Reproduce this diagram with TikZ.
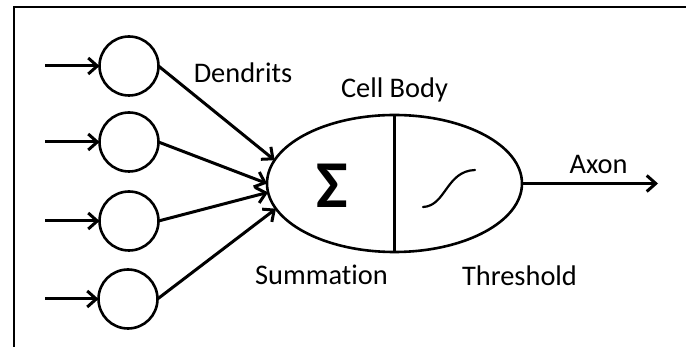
\documentclass[tikz,border=0pt]{standalone}
\usepackage{fontspec}
\setmainfont[Ligatures=NoCommon]{Carlito}
\usetikzlibrary{arrows.meta,shapes.geometric}

\tikzset{
  inputcell/.style={draw, circle, minimum size=59pt, inner sep=0pt, outer sep=0pt, line width=2.6pt},
  soma/.style={draw, ellipse, minimum width=255pt, minimum height=137pt, inner sep=0pt, outer sep=0pt, line width=2.6pt},
  wire/.style={line width=3pt, -{Straight Barb[length=9pt,width=16pt]}},
  label/.style={font=\fontsize{28.4}{34}\selectfont, anchor=base, inner sep=0pt},
  frameline/.style={line width=2pt}
}

\begin{document}
\begin{tikzpicture}[x=1pt, y=-1pt]
  \useasboundingbox (0,0) rectangle (686,347);

  % partial frame: top and left edges
  \draw[frameline] (686,7) -- (14,7) -- (14,348);

  % input cells
  \node[inputcell] (c1) at (129,66) {};
  \node[inputcell] (c2) at (129,142) {};
  \node[inputcell] (c3) at (129,221) {};
  \node[inputcell] (c4) at (128,299) {};

  % incoming signals
  \coordinate (i1) at (45,66);
  \coordinate (i2) at (45,142);
  \coordinate (i3) at (45,221);
  \coordinate (i4) at (45,299);
  \draw[wire] (i1) -- (c1.west);
  \draw[wire] (i2) -- (c2.west);
  \draw[wire] (i3) -- (c3.west);
  \draw[wire] (i4) -- (c4.west);

  % cell body
  \node[soma] (cb) at (394.5,183.5) {};
  \draw[line width=2.6pt] (cb.north) -- (cb.south);

  % dendrites into the cell body
  \draw[wire] (c1.east) -- (cb.169);
  \draw[wire] (c2.east) -- (cb.180);
  \draw[wire] (c3.east) -- (cb.184);
  \draw[wire] (c4.east) -- (cb.192.5);

  % summation symbol
  \node[inner sep=0pt, font=\fontsize{67}{67}\selectfont\bfseries] (sigma) at (332,186) {Σ};

  % threshold curve
  \draw[line width=2.2pt, line cap=round] (423,207) .. controls (446,206) and (446,171) .. (475,170);

  % axon
  \coordinate (ax) at (658,183.5);
  \draw[wire] (cb.east) -- (ax);

  % labels
  \node[label] (ldend) at (243,83) {Dendrits};
  \node[label] (lcell) at (394.5,98) {Cell Body};
  \node[label] (laxon) at (598.5,174) {Axon};
  \node[label] (lsum) at (321.5,285) {Summation};
  \node[label] (lthr) at (519.5,286) {Threshold};
\end{tikzpicture}
\end{document}
